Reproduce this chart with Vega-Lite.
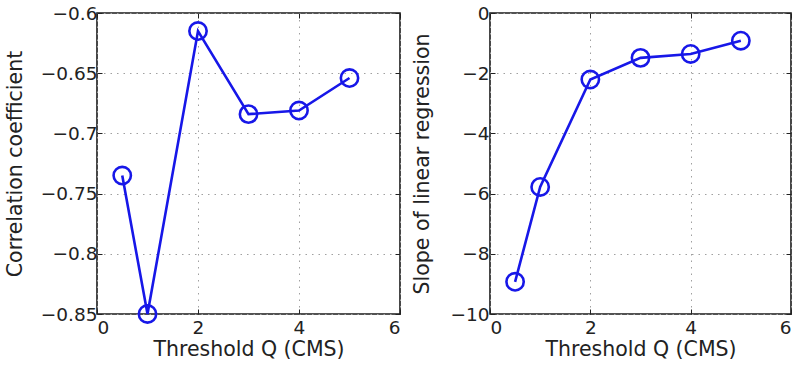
{
  "$schema": "https://vega.github.io/schema/vega-lite/v6.json",
  "background": "white",
  "padding": {"left": 4, "top": 3, "right": 0, "bottom": 0},
  "spacing": 10,
  "datasets": {
    "corr": [
      {"q": 0.5, "r": -0.735},
      {"q": 1, "r": -0.85},
      {"q": 2, "r": -0.615},
      {"q": 3, "r": -0.684},
      {"q": 4, "r": -0.681},
      {"q": 5, "r": -0.654}
    ],
    "slope": [
      {"q": 0.5, "s": -8.93},
      {"q": 1, "s": -5.78},
      {"q": 2, "s": -2.21},
      {"q": 3, "s": -1.49},
      {"q": 4, "s": -1.36},
      {"q": 5, "s": -0.92}
    ]
  },
  "config": {
    "font": "DejaVu Sans",
    "view": {"stroke": "#1a1a1a", "strokeWidth": 1.6},
    "axis": {
      "labelFont": "DejaVu Sans",
      "titleFont": "DejaVu Sans",
      "labelFontSize": 18.5,
      "titleFontSize": 20.5,
      "titleFontWeight": "normal",
      "labelColor": "#222222",
      "titleColor": "#222222",
      "domain": false,
      "ticks": true,
      "tickSize": -5,
      "tickColor": "#222222",
      "grid": true,
      "gridColor": "#a0a0a0",
      "gridDash": [1.5, 5],
      "gridWidth": 1,
      "labelPadding": 5
    }
  },
  "hconcat": [
    {
      "width": 303,
      "height": 301,
      "data": {"name": "corr"},
      "resolve": {"axis": {"x": "independent", "y": "independent"}},
      "layer": [
        {
          "mark": {"type": "line", "color": "#1717e8", "strokeWidth": 2.6},
          "encoding": {
            "x": {"field": "q", "type": "quantitative", "title": "Threshold Q (CMS)",
                  "scale": {"domain": [0, 6], "nice": false},
                  "axis": {"values": [0, 2, 4, 6], "format": "~g", "labelPadding": 9, "titlePadding": 3}},
            "y": {"field": "r", "type": "quantitative", "title": "Correlation coefficient",
                  "scale": {"domain": [-0.85, -0.6], "nice": false, "zero": false},
                  "axis": {"values": [-0.85, -0.8, -0.75, -0.7, -0.65, -0.6], "format": "~g", "labelPadding": 5, "titlePadding": 15}}
          }
        },
        {
          "mark": {"type": "point", "shape": "circle", "filled": false, "color": "#1717e8", "strokeWidth": 2.6, "size": 300, "opacity": 1},
          "encoding": {
            "x": {"field": "q", "type": "quantitative", "axis": {"orient": "top", "values": [0, 2, 4, 6], "labels": false, "title": null, "grid": false}},
            "y": {"field": "r", "type": "quantitative", "axis": {"orient": "right", "values": [-0.85, -0.8, -0.75, -0.7, -0.65, -0.6], "labels": false, "title": null, "grid": false}}
          }
        }
      ]
    },
    {
      "width": 301,
      "height": 301,
      "data": {"name": "slope"},
      "resolve": {"axis": {"x": "independent", "y": "independent"}},
      "layer": [
        {
          "mark": {"type": "line", "color": "#1717e8", "strokeWidth": 2.6},
          "encoding": {
            "x": {"field": "q", "type": "quantitative", "title": "Threshold Q (CMS)",
                  "scale": {"domain": [0, 6], "nice": false},
                  "axis": {"values": [0, 2, 4, 6], "format": "~g", "labelPadding": 9, "titlePadding": 3}},
            "y": {"field": "s", "type": "quantitative", "title": "Slope of linear regression",
                  "scale": {"domain": [-10, 0], "nice": false, "zero": false},
                  "axis": {"values": [-10, -8, -6, -4, -2, 0], "format": "d", "labelPadding": 6, "titlePadding": 17}}
          }
        },
        {
          "mark": {"type": "point", "shape": "circle", "filled": false, "color": "#1717e8", "strokeWidth": 2.6, "size": 300, "opacity": 1},
          "encoding": {
            "x": {"field": "q", "type": "quantitative", "axis": {"orient": "top", "values": [0, 2, 4, 6], "labels": false, "title": null, "grid": false}},
            "y": {"field": "s", "type": "quantitative", "axis": {"orient": "right", "values": [-10, -8, -6, -4, -2, 0], "labels": false, "title": null, "grid": false}}
          }
        }
      ]
    }
  ]
}
